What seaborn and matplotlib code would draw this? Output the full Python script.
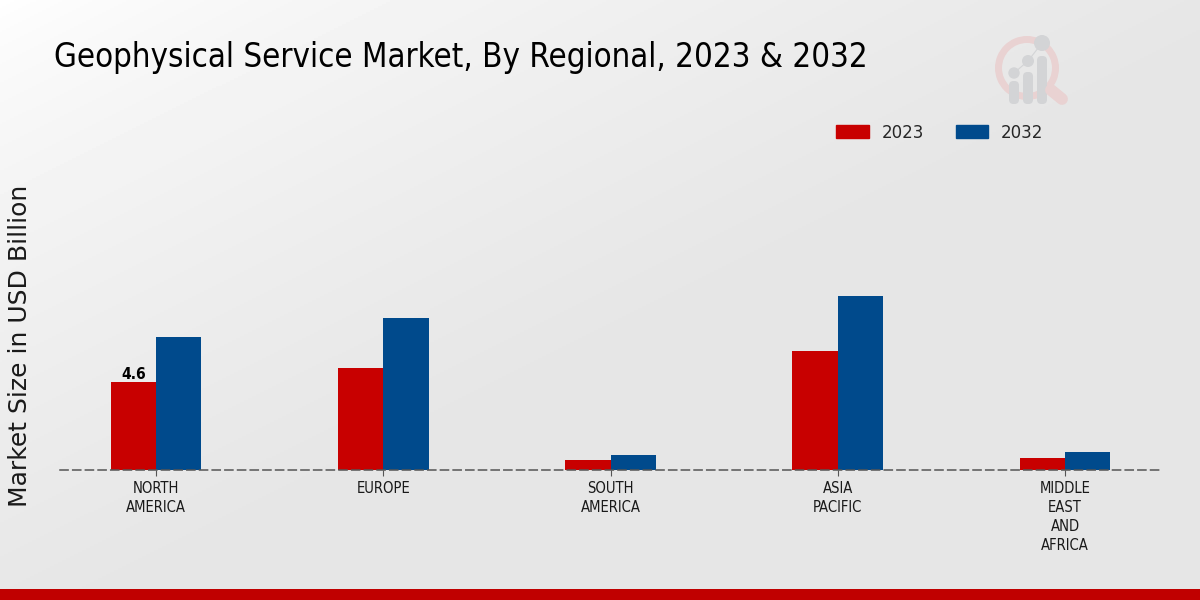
import numpy as np
import pandas as pd
import matplotlib
matplotlib.use('Agg')
import matplotlib.pyplot as plt
from matplotlib.patches import Circle, Wedge, FancyBboxPatch, Rectangle
import seaborn as sns

# Values
regions = ['NORTH\nAMERICA', 'EUROPE', 'SOUTH\nAMERICA', 'ASIA\nPACIFIC', 'MIDDLE\nEAST\nAND\nAFRICA']
values_2023 = [4.6, 5.35, 0.5, 6.2, 0.65]
values_2032 = [6.95, 7.95, 0.8, 9.1, 0.95]
years = ['2023', '2032']
bar_colors = ['#c80000', '#004a8c']

df = pd.DataFrame({'region': regions * 2,
                   'year': [years[0]] * 5 + [years[1]] * 5,
                   'value': values_2023 + values_2032})

sns.set_style('white')
plt.rcParams['font.family'] = ['DejaVu Sans']
plt.rcParams['font.stretch'] = 'condensed'

fig = plt.figure(figsize=(12, 6), dpi=100)

# background gradient, whitish top left going to grey
bg = fig.add_axes([0, 0, 1, 1], zorder=0)
yy, xx = np.mgrid[0:600:300j, 0:1200:600j]
grad = np.clip((xx + 2 * yy) / 1300, 0, 1) ** 0.7
bg.imshow(1.0 - 0.1 * grad, cmap='gray', vmin=0, vmax=1, aspect='auto', extent=[0, 1200, 600, 0])
bg.set_xlim(0, 1200)
bg.set_ylim(600, 0)
bg.axis('off')

# bottom red band
bg.add_patch(Rectangle((0, 589), 1200, 11, color='#c00000', lw=0))

# faint logo top right
bg.add_patch(Wedge((1027, 68), 32, 0, 360, width=7, color='#e9d2d2', lw=0))
bg.plot([1051, 1062], [90, 99], color='#e9d2d2', lw=8.5, solid_capstyle='round')
for cx, top, cy, r in [(1014, 81, 73, 5.7), (1028, 72, 61, 6), (1042, 56, 43, 8)]:
    bg.add_patch(FancyBboxPatch((cx - 5, top), 10, 104 - top, boxstyle='round,pad=0,rounding_size=4.5',
                                color='#d3d4d6', lw=0))
    bg.add_patch(Circle((cx, cy), r, color='#d3d4d6', lw=0))
bg.plot([1014, 1028, 1042], [73, 61, 43], color='#d3d4d6', lw=0.8)

# main axes, baseline at y=470
ax = fig.add_axes([60 / 1200, (600 - 470) / 600, 1100 / 1200, 370 / 600], zorder=1)
ax.patch.set_alpha(0)

sns.barplot(data=df, x='region', y='value', hue='year', palette=bar_colors, width=0.4,
            saturation=1, ax=ax, legend=False, edgecolor='none', linewidth=0)

ax.set_xlim(-0.4225, 4.418)
ax.set_ylim(0, 370 / 19.13)
ax.set_xlabel('')
ax.set_yticks([])
ax.set_ylabel('Market Size in USD Billion', fontsize=18, color='#1a1a1a', stretch='normal', va='center')
ax.yaxis.set_label_coords(-40 / 1100, 0.335)
for side in ['top', 'right', 'left']:
    ax.spines[side].set_visible(False)
ax.spines['bottom'].set_linestyle((0, (5.3, 3)))
ax.spines['bottom'].set_color('#555555')
ax.spines['bottom'].set_linewidth(1.1)
ax.spines['bottom'].set_zorder(5)
ax.tick_params(axis='x', length=4, width=0.8, color='#555555', labelsize=10.6, labelcolor='#1a1a1a', pad=4, bottom=True)
for lab in ax.get_xticklabels():
    lab.set_linespacing(1.32)

# only the first bar carries a value label
ax.bar_label(ax.containers[0], labels=['4.6', '', '', '', ''], fontsize=11.2, fontweight='bold',
             color='black', padding=0)

# legend
handles = [Rectangle((0, 0), 1, 1, color=c) for c in bar_colors]
fig.legend(handles, years, loc='center', bbox_to_anchor=(940 / 1200, 1 - 133 / 600), ncol=2, frameon=False,
           fontsize=13.3, handlelength=1.74, handleheight=0.7, handletextpad=0.7, columnspacing=1.75)

fig.text(54 / 1200, 1 - 57 / 600, 'Geophysical Service Market, By Regional, 2023 & 2032', fontsize=23.7,
         color='black', va='center', ha='left')

fig.savefig('out.png', dpi=100)
